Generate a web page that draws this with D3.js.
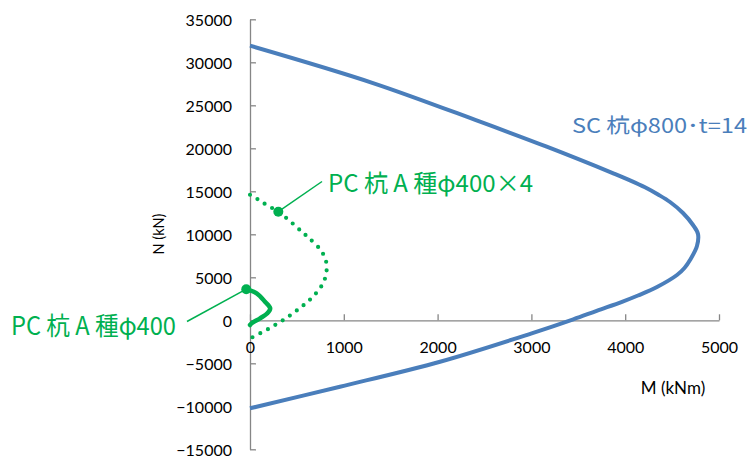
<!DOCTYPE html>
<html><head><meta charset="utf-8">
<script src="https://cdn.jsdelivr.net/npm/d3@7"></script>
<style>body{margin:0;background:#fff}svg{display:block}</style>
</head><body>
<svg id="c" width="754" height="459"></svg>
<script>
// Tick values
const xTicks = [0, 1000, 2000, 3000, 4000, 5000];
const yTicks = [-15000, -10000, -5000, 0, 5000, 10000, 15000, 20000, 25000, 30000, 35000];
// Series: M (kNm), N (kN)
const scM = [0, 1311, 2452, 3163, 3873, 4051, 4211, 4350, 4478, 4616, 4723, 4776, 4765, 4691, 4632, 4552, 4339, 4136, 3966, 3696, 3447, 3003, 2026, 959, 0];
const scN = [31930, 27590, 23093, 20186, 17093, 16279, 15465, 14628, 13756, 12477, 11081, 10035, 8640, 7012, 6081, 5267, 3872, 2884, 2151, 1105, 116, -1512, -4814, -7721, -10233];
const pc4M = [0, 107, 178, 302, 421, 551, 632, 753, 804, 818, 807, 775, 718, 654, 586, 515, 434, 355, 267, 189, 107, 18, 0];
const pc4N = [14600, 13907, 13407, 12628, 11581, 10302, 9535, 8174, 7128, 6163, 5151, 4221, 3326, 2558, 1895, 1279, 616, 35, -547, -1047, -1512, -2023, -2150];
const pcM = [-40, 71, 160, 215, 185, 107, 18, 0];
const pcN = [3620, 3140, 2163, 1400, 814, 233, -349, -547];
// Labels
const labels = ["SC 杭φ800･t=14", "PC 杭 A 種φ400×4", "PC 杭 A 種φ400"];
const markerPC4 = [302, 12628];
const markerPC = [-40, 3620];
const xTitle = "M (kNm)", yTitle = "N (kN)";

const svg = d3.select("#c");
const x = d3.scaleLinear().domain([0, 5000]).range([250, 719]);
const y = d3.scaleLinear().domain([-15000, 35000]).range([449.3, 19.3]);
const axisColor = "#868686";
const font = "Lato, 'Open Sans', sans-serif";

const gy = svg.append("g").attr("transform", `translate(${x(0)},0)`)
  .call(d3.axisLeft(y).tickValues(yTicks).tickSizeInner(-6).tickSizeOuter(0).tickPadding(18).tickFormat(d3.format("d")));
const gx = svg.append("g").attr("transform", `translate(0,${y(0)})`)
  .call(d3.axisBottom(x).tickValues(xTicks).tickSizeInner(-6).tickSizeOuter(0).tickPadding(21).tickFormat(d3.format("d")));
[gx, gy].forEach(g => {
  g.select(".domain").attr("stroke", axisColor).attr("stroke-width", 1.3);
  g.selectAll(".tick line").attr("stroke", axisColor).attr("stroke-width", 1.3);
  g.selectAll("text").attr("fill", "#000").style("font-family", font).style("font-size", "16px");
});
gy.selectAll("text").attr("dy", "0.38em");

svg.append("text").attr("transform", `translate(164,234) rotate(-90)`).attr("text-anchor", "middle")
  .style("font-family", font).style("font-size", "14.5px").attr("fill", "#000").text(yTitle);
svg.append("text").attr("x", 673).attr("y", 394).attr("text-anchor", "middle")
  .style("font-family", font).style("font-size", "17px").attr("fill", "#000").text(xTitle);

const line = d3.line().x(d => x(d[0])).y(d => y(d[1])).curve(d3.curveCatmullRom.alpha(0.5));
const blue = "#4a7ebb", green = "#00b050";

svg.append("path").datum(d3.zip(scM, scN)).attr("d", line)
  .attr("fill", "none").attr("stroke", blue).attr("stroke-width", 4);
svg.append("path").datum(d3.zip(pc4M, pc4N)).attr("d", line)
  .attr("fill", "none").attr("stroke", green).attr("stroke-width", 4.2)
  .attr("stroke-linecap", "round").attr("stroke-dasharray", "0 8.6");
svg.append("path").datum(d3.zip(pcM, pcN)).attr("d", line)
  .attr("fill", "none").attr("stroke", green).attr("stroke-width", 4.5).attr("stroke-linecap", "round");

// markers + leaders
svg.append("line").attr("x1", x(markerPC4[0])).attr("y1", y(markerPC4[1])).attr("x2", 322).attr("y2", 181.5)
  .attr("stroke", green).attr("stroke-width", 1.5);
svg.append("line").attr("x1", x(markerPC[0])).attr("y1", y(markerPC[1])).attr("x2", 187).attr("y2", 321.5)
  .attr("stroke", green).attr("stroke-width", 1.5);
svg.append("circle").attr("cx", x(markerPC4[0])).attr("cy", y(markerPC4[1])).attr("r", 5).attr("fill", green);
svg.append("circle").attr("cx", x(markerPC[0])).attr("cy", y(markerPC[1])).attr("r", 5).attr("fill", green);

const jp = "'Noto Sans CJK JP', sans-serif";
svg.append("text").attr("x", 572).attr("y", 133).attr("textLength", 175).attr("lengthAdjust", "spacingAndGlyphs")
  .style("font-family", jp).style("font-size", "20px").attr("fill", blue).text(labels[0]);
svg.append("text").attr("x", 328).attr("y", 192).attr("textLength", 205).attr("lengthAdjust", "spacingAndGlyphs")
  .style("font-family", jp).style("font-size", "24px").attr("fill", green).text(labels[1]);
svg.append("text").attr("x", 11).attr("y", 335).attr("textLength", 165).attr("lengthAdjust", "spacingAndGlyphs")
  .style("font-family", jp).style("font-size", "25px").attr("fill", green).text(labels[2]);
</script>
</body></html>
